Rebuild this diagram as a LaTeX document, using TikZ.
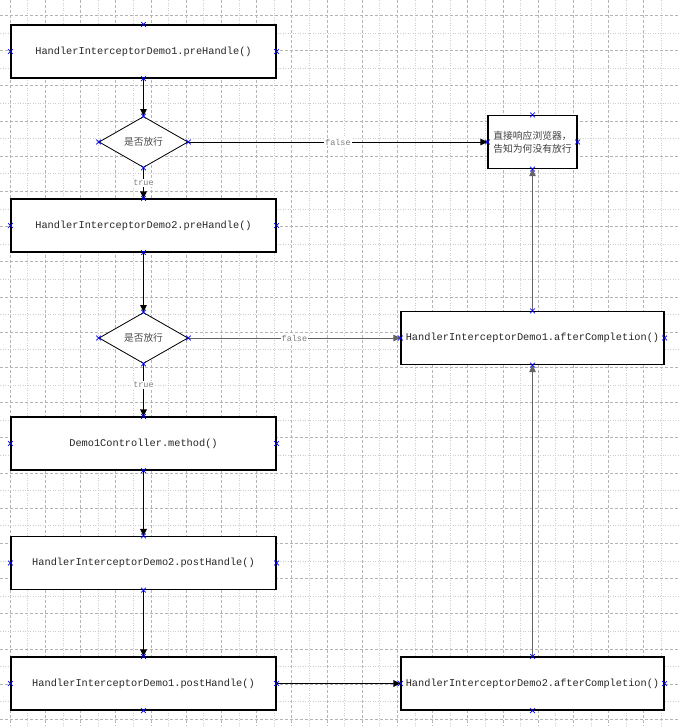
\documentclass[tikz,border=0pt]{standalone}
\usepackage{fontspec}
\setmonofont{Liberation Mono}
\newfontfamily\cjk{Noto Sans CJK SC}
\usetikzlibrary{shapes.geometric,shapes.misc,arrows.meta}
\definecolor{gridmajor}{RGB}{180,180,180}
\definecolor{gridminor}{RGB}{205,205,205}
\definecolor{linegray}{RGB}{100,100,100}
\definecolor{labelgray}{RGB}{125,125,125}
\begin{document}
\begin{tikzpicture}[x=1pt, y=-1pt, >={Triangle[length=7pt,width=6.5pt]},
    box/.style={draw, line width=1.1pt, fill=white, minimum width=265pt, minimum height=53pt,
        inner sep=0pt, font=\fontsize{10.3}{12}\selectfont\ttfamily, text=black!85},
    decide/.style={diamond, aspect=1.7, draw, line width=0.8pt, fill=white, minimum width=89pt,
        minimum height=51pt, inner sep=0pt, font=\fontsize{9.7}{12}\selectfont\cjk, text=black!70},
    msgbox/.style={draw, line width=1.1pt, fill=white, minimum width=89pt, minimum height=53pt,
        inner sep=0pt, align=left, font=\fontsize{9.8}{13}\selectfont\cjk, text=black!75},
    lab/.style={fill=white, inner sep=1pt, font=\fontsize{8.5}{9}\selectfont\ttfamily, text=labelgray},
    flow/.style={line width=1.1pt},
    cnx/.style={cross out, draw=blue, line width=0.7pt, minimum size=4pt, inner sep=0pt}]
    \useasboundingbox (0,0) rectangle (678,726);
    \fill[white] (0,0) rectangle (678,726);
    % background grid
    \foreach \k in {0,2,...,36}
        \draw[gridmajor, line width=0.6pt, dash pattern=on 3pt off 2pt] ({10.1+17.6*\k},0) -- ({10.1+17.6*\k},726);
    \foreach \k in {1,3,...,37}
        \draw[gridminor, line width=0.6pt, dash pattern=on 1pt off 1.5pt] ({10.1+17.6*\k},0) -- ({10.1+17.6*\k},726);
    \foreach \k in {0,2,...,40}
        \draw[gridmajor, line width=0.6pt, dash pattern=on 3pt off 2pt] (0,{15.2+17.6*\k}) -- (678,{15.2+17.6*\k});
    \foreach \k in {1,3,...,39}
        \draw[gridminor, line width=0.6pt, dash pattern=on 1pt off 1.5pt] (0,{15.2+17.6*\k}) -- (678,{15.2+17.6*\k});

    \node[box] (pre1) at (143.5,51.5) {HandlerInterceptorDemo1.preHandle()};
    \node[decide] (ok1) at (143.5,142) {是否放行};
    \node[box] (pre2) at (143.5,225.5) {HandlerInterceptorDemo2.preHandle()};
    \node[decide] (ok2) at (143.5,338) {是否放行};
    \node[box] (ctrl) at (143.5,443.5) {Demo1Controller.method()};
    \node[box] (post2) at (143.5,563) {HandlerInterceptorDemo2.postHandle()};
    \node[box] (post1) at (143.5,683.5) {HandlerInterceptorDemo1.postHandle()};
    \node[msgbox] (reply) at (532.5,142) {直接响应浏览器，\\告知为何没有放行};
    \node[box, minimum width=263pt] (after1) at (532.5,338) {HandlerInterceptorDemo1.afterCompletion()};
    \node[box, minimum width=263pt] (after2) at (532.5,683.5) {HandlerInterceptorDemo2.afterCompletion()};

    % left column
    \draw[->, flow] (pre1) -- (ok1);
    \draw[->, flow] (ok1) -- node[lab] {true} (pre2);
    \draw[->, flow] (pre2) -- (ok2);
    \draw[->, flow] (ok2) -- node[lab, pos=0.4] {true} (ctrl);
    \draw[->, flow] (ctrl) -- (post2);
    \draw[->, flow] (post2) -- (post1);
    \draw[->, flow] (post1) -- (after2);
    % false branches and completion chain
    \draw[->, line width=0.9pt] (ok1) -- node[lab] {false} (reply);
    \draw[->, linegray, line width=0.9pt] (ok2) -- node[lab] {false} (after1);
    \draw[->, linegray, line width=0.9pt] (after2) -- (after1);
    \draw[->, linegray, line width=0.9pt] (after1) -- (reply);

    % connection points
    \foreach \n in {pre1,ok1,pre2,ok2,ctrl,post2,post1,reply,after1,after2}
        \foreach \a in {north,south,east,west}
            \node[cnx] (\n-\a) at (\n.\a) {};
\end{tikzpicture}
\end{document}
